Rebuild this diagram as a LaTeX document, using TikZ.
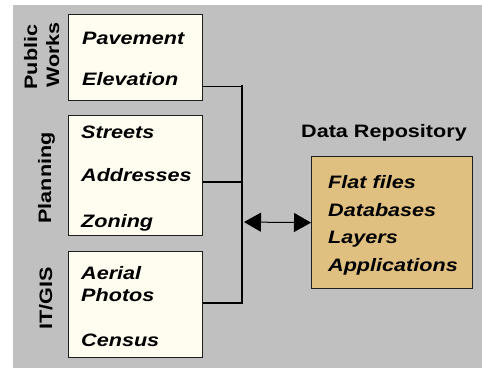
\documentclass[tikz,border=0pt]{standalone}
\usepackage{fontspec}
\setmainfont{Liberation Sans}[FakeStretch=1.2]
\usetikzlibrary{arrows.meta}
\definecolor{bg}{RGB}{192,192,192}
\definecolor{cream}{RGB}{255,252,240}
\definecolor{tanbox}{RGB}{224,192,128}
\definecolor{edge}{RGB}{30,30,30}
\begin{document}
\begin{tikzpicture}[x=1pt,y=-1pt,
  lbl/.style={font=\fontsize{18}{22}\selectfont\bfseries, inner sep=0pt, anchor=base},
  item/.style={font=\fontsize{18}{22}\selectfont\bfseries\itshape, inner sep=0pt, anchor=base west},
  group/.style={draw=edge, line width=1.3pt, fill=cream, anchor=north west, inner sep=0pt, minimum width=134pt},
  store/.style={draw=edge, line width=1.3pt, fill=tanbox, anchor=north west, inner sep=0pt},
  link/.style={draw=black, line width=#1},
  tip/.style={{Triangle[length=17pt,width=19pt]}-{Triangle[length=17pt,width=19pt]}}
]
\useasboundingbox (0,0) rectangle (482,368);
\fill[bg] (13,5) rectangle (482,368);

% group boxes
\node[group, minimum height=86pt] (pw) at (68,14) {};
\node[group, minimum height=120pt] (pl) at (68,115) {};
\node[group, minimum height=106pt] (it) at (68,251) {};
\node[store, minimum width=161pt, minimum height=132pt] (data) at (311,156) {};

% side labels
\node[lbl, rotate=90] (lpub) at (37,57) {Public};
\node[lbl, rotate=90] (lwor) at (59,55) {Works};
\node[lbl, rotate=90] (lpla) at (51,178) {Planning};
\node[lbl, rotate=90] (lit) at (52,298) {IT/GIS};

% items
\node[item] (i1) at (82,44) {Pavement};
\node[item] (i2) at (82,85) {Elevation};
\node[item] (i3) at (81,138) {Streets};
\node[item] (i4) at (81,181) {Addresses};
\node[item] (i5) at (81,227) {Zoning};
\node[item] (i6) at (81,279) {Aerial};
\node[item] (i7) at (81,301) {Photos};
\node[item] (i8) at (81,346) {Census};

\node[lbl] (dtitle) at (384,137) {Data Repository};
\node[item] (d1) at (328,188) {Flat files};
\node[item] (d2) at (328,216) {Databases};
\node[item] (d3) at (328,243) {Layers};
\node[item] (d4) at (328,271) {Applications};

% bus
\coordinate (bt) at (242,86);
\coordinate (bm) at (242,182);
\coordinate (ba) at (242,222);
\coordinate (bb) at (242,303);
\draw[link=1pt] (pw.east |- bt) -- (bt);
\draw[link=2pt] (pl.east |- bm) -- (bm);
\draw[link=2pt] (it.east |- bb) -- (bb);
\draw[link=2.5pt, line cap=rect] (bt) -- (bb);
\draw[link=1pt, tip, shorten <=2pt] (ba) -- (data.west);
\end{tikzpicture}
\end{document}
